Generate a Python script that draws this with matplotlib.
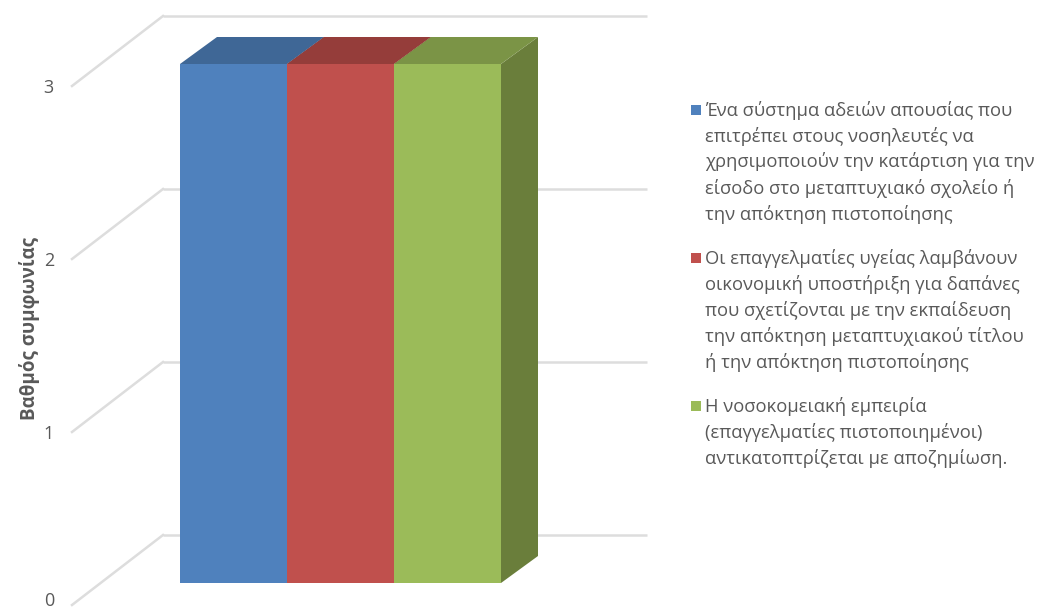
import matplotlib.pyplot as plt
from matplotlib.patches import Polygon, Rectangle

plt.rcParams['font.family'] = ['Open Sans', 'DejaVu Sans']

# series (one category, three agreement statements)
series_labels = [
    ["Ένα σύστημα αδειών απουσίας που",
     "επιτρέπει στους νοσηλευτές να",
     "χρησιμοποιούν την κατάρτιση για την",
     "είσοδο στο μεταπτυχιακό σχολείο ή",
     "την απόκτηση πιστοποίησης"],
    ["Οι επαγγελματίες υγείας λαμβάνουν",
     "οικονομική υποστήριξη για δαπάνες",
     "που σχετίζονται με την εκπαίδευση",
     "την απόκτηση μεταπτυχιακού τίτλου",
     "ή την απόκτηση πιστοποίησης"],
    ["Η νοσοκομειακή εμπειρία",
     "(επαγγελματίες πιστοποιημένοι)",
     "αντικατοπτρίζεται με αποζημίωση."],
]
values = [3, 3, 3]
yticks = [0, 1, 2, 3]
ylabel = "Βαθμός συμφωνίας"

front = ['#4F81BD', '#C0504D', '#9BBB59']
top = ['#3F6796', '#953D3A', '#7B9446']
side = ['#34567E', '#7C3230', '#6A7E3B']
grid_c = '#DDDDDD'
text_c = '#595959'

W, H = 1045, 612
PX = 173.0          # pixels per unit of the value axis
Y0 = 583.0          # pixel row of value 0 on the bar front

fig = plt.figure(figsize=(W / 100, H / 100), dpi=100)
ax = fig.add_axes([0, 0, 1, 1])
ax.set_xlim(0, W)
ax.set_ylim((Y0 - H) / PX, Y0 / PX)
ax.axis('off')

# oblique depth offsets
wall_dx, wall_front, wall_back = 91, -22 / PX, 48 / PX
bar_dx, bar_dy = 37, 27 / PX

# back wall and side wall gridlines
for t in yticks:
    ax.plot([163, 647], [t + wall_back] * 2, color=grid_c, lw=1.8, zorder=1,
            solid_capstyle='butt')
    ax.plot([163 - wall_dx, 163], [t + wall_front, t + wall_back],
            color=grid_c, lw=1.8, zorder=1)
    ax.text(54, max(t + wall_front - 0.012, -0.105), str(t), ha='right',
            va='center', fontsize=13, color=text_c)

ax.text(30, (Y0 - 328) / PX, ylabel, rotation=90, ha='center', va='center',
        fontsize=13.5, fontweight='bold', color=text_c)

# 3D-looking bars
bw = 107
x0 = 180
for i, v in enumerate(values):
    xa, xb = x0 + i * bw, x0 + (i + 1) * bw
    ax.add_patch(Polygon([(xb, 0), (xb + bar_dx, bar_dy),
                          (xb + bar_dx, v + bar_dy), (xb, v)],
                         closed=True, fc=side[i], ec='none', zorder=3))
    ax.add_patch(Polygon([(xa, v), (xb, v), (xb + bar_dx, v + bar_dy),
                          (xa + bar_dx, v + bar_dy)],
                         closed=True, fc=top[i], ec='none', zorder=3))
    ax.add_patch(Rectangle((xa, 0), bw, v, fc=front[i], ec='none', zorder=4))

# legend
line_h = 26
y = 110
for i, lines in enumerate(series_labels):
    fig.patches.append(Rectangle((691 / W, 1 - (y + 5) / H), 10 / W, 10 / H,
                                 transform=fig.transFigure, fc=front[i],
                                 ec='none'))
    for k, ln in enumerate(lines):
        fig.text(705 / W, 1 - (y + k * line_h) / H, ln, ha='left',
                 va='center', fontsize=13.2, color=text_c)
    y += len(lines) * line_h + 18

fig.savefig('out.png', dpi=100)
